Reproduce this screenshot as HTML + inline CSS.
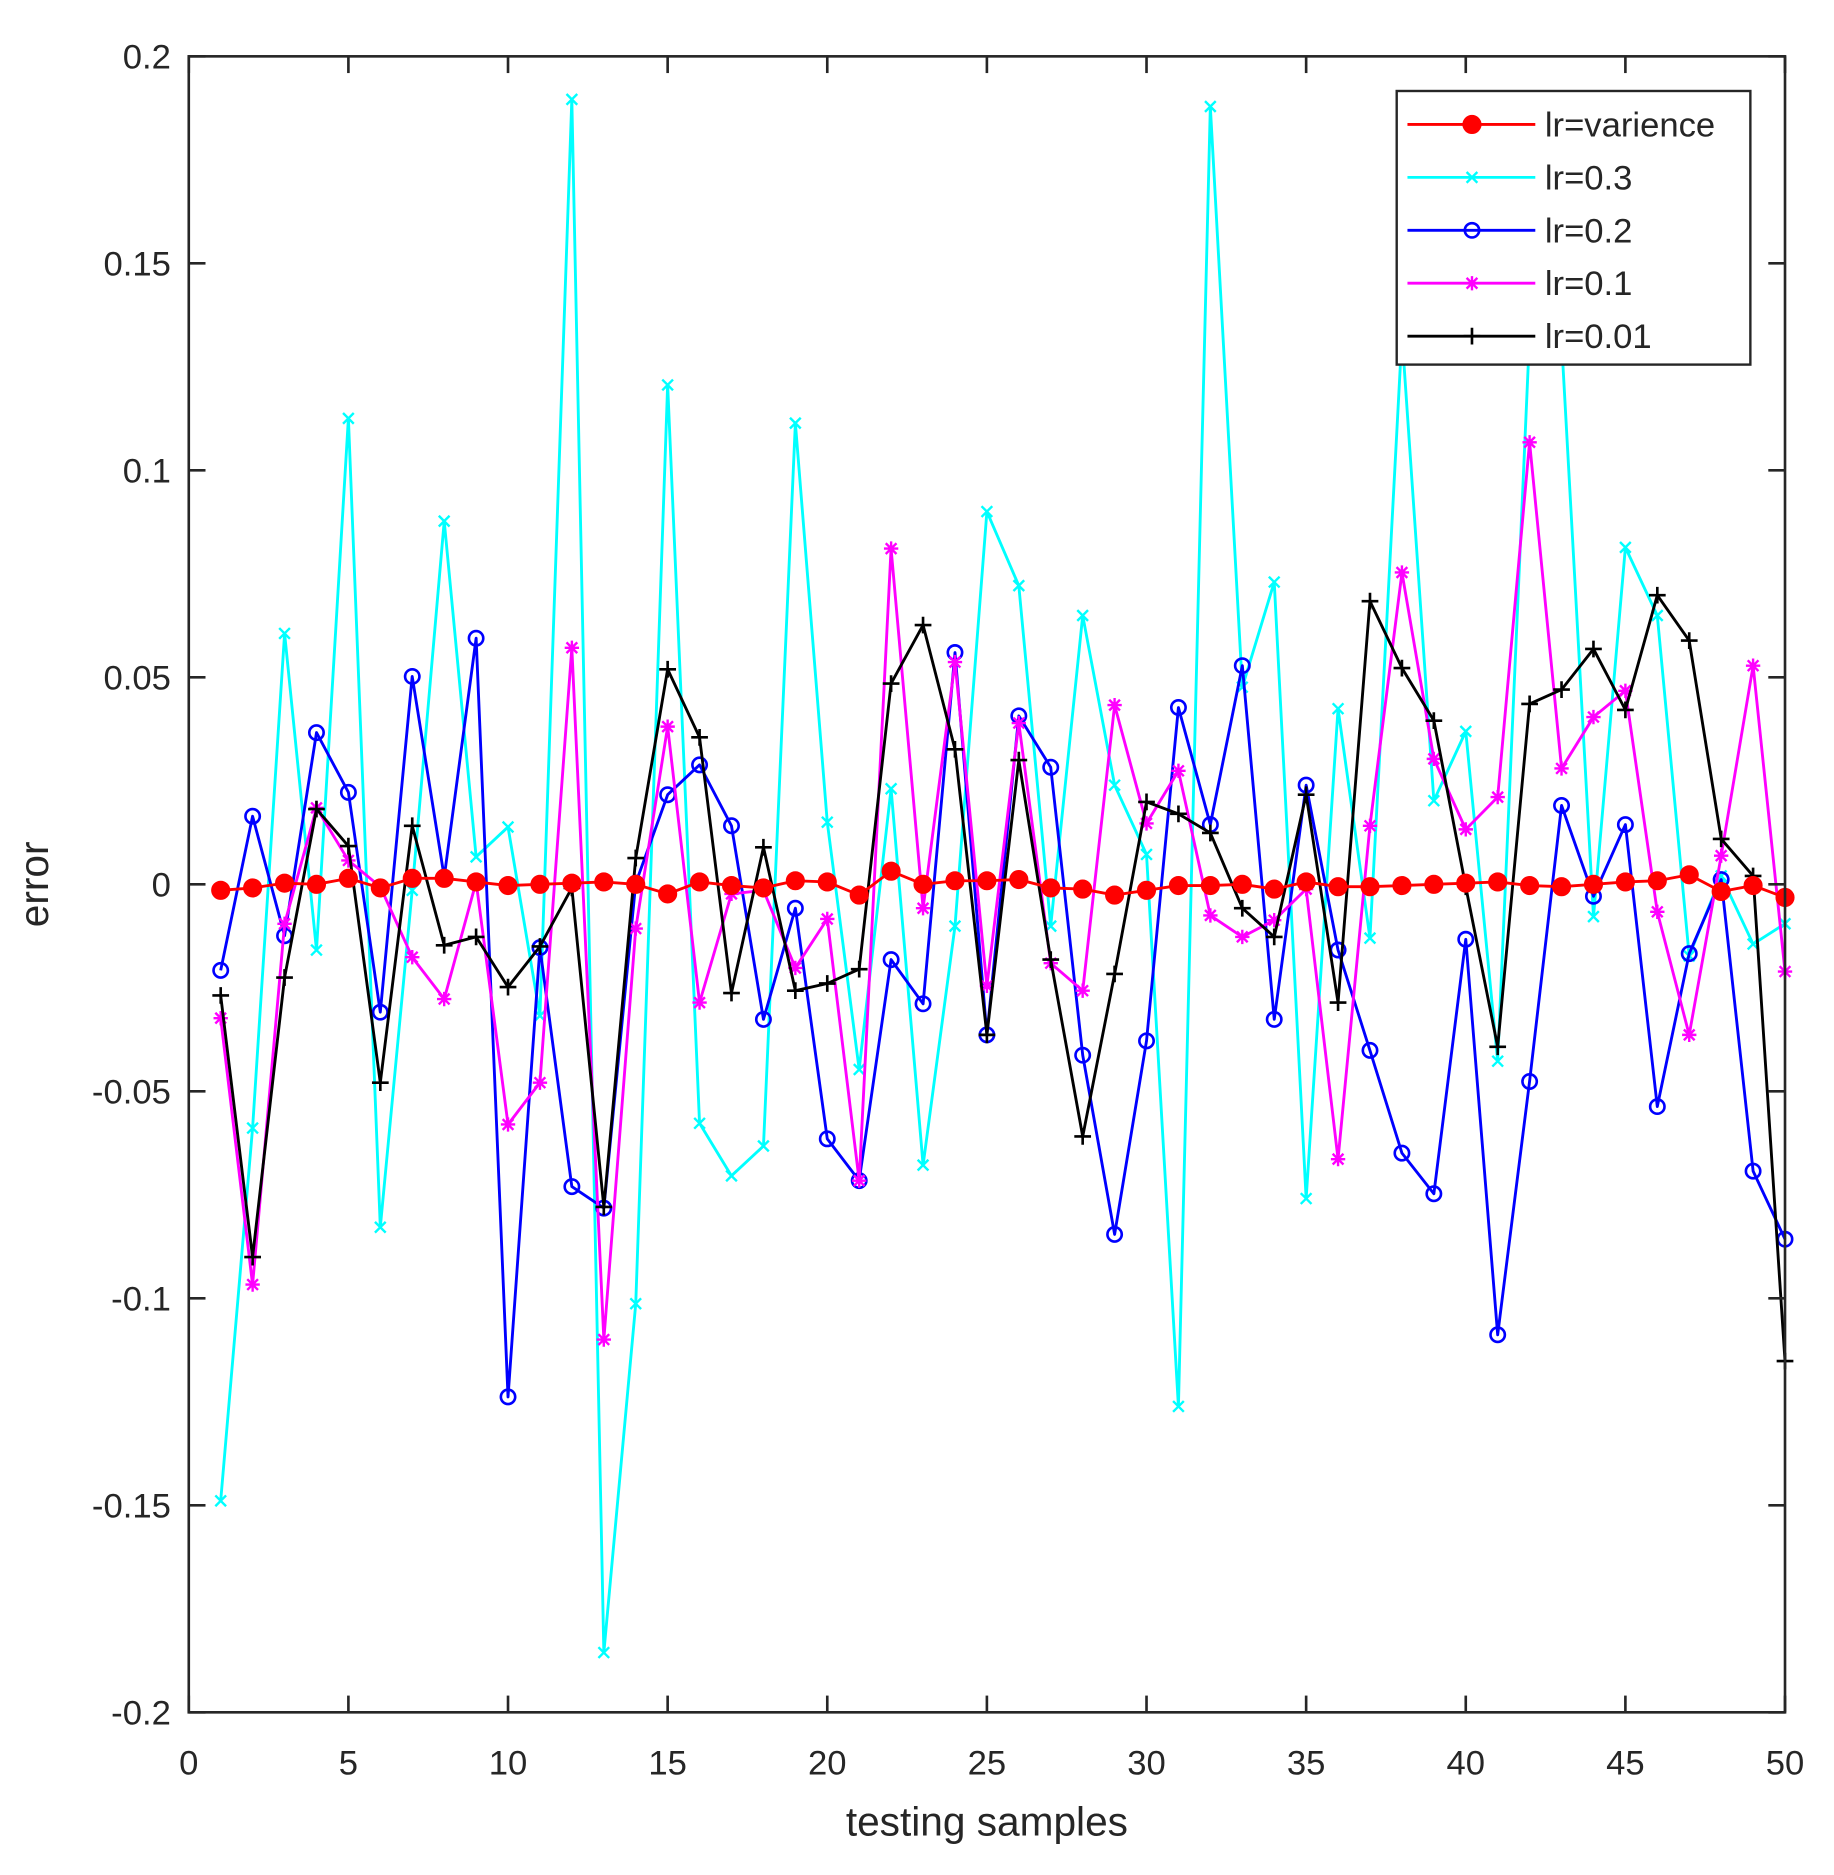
<!DOCTYPE html>
<html><head><meta charset="utf-8"><style>
html,body{margin:0;padding:0;background:#fff;}
svg{display:block;}
text{font-family:"Liberation Sans",Arial,sans-serif;fill:#262626;}
</style></head><body>
<svg id="s" width="1834" height="1875" viewBox="0 0 1535 1569" xmlns="http://www.w3.org/2000/svg">
<rect x="0" y="0" width="1535" height="1569" fill="#fff"/>
<g id="data"></g>
<g id="axes" stroke="#262626" stroke-width="2.2" fill="none">
<rect x="158" y="47" width="1336" height="1386"/>
</g>
<g id="labels"></g>
<text x="826" y="1536" font-size="34" text-anchor="middle">testing samples</text>
<text transform="translate(40,740) rotate(-90)" font-size="34" text-anchor="middle">error</text>
<g id="legend"></g>
</svg>
<script>
var NS="http://www.w3.org/2000/svg";
function el(p,t,a,txt){var e=document.createElementNS(NS,t);for(var k in a)e.setAttribute(k,a[k]);if(txt!=null)e.textContent=txt;p.appendChild(e);return e;}
var X=function(i){return 158+26.72*i;};
var axes=document.getElementById('axes'),labels=document.getElementById('labels');
for(var i=0;i<=10;i++){var x=158+133.6*i;
 el(axes,'line',{x1:x,y1:1433,x2:x,y2:1419});el(axes,'line',{x1:x,y1:47,x2:x,y2:61});
 el(labels,'text',{x:x,y:1485,'font-size':29,'text-anchor':'middle'},String(i*5));}
var yl=['0.2','0.15','0.1','0.05','0','-0.05','-0.1','-0.15','-0.2'];
for(var j=0;j<9;j++){var y=47+173.25*j;
 el(axes,'line',{x1:158,y1:y,x2:172,y2:y});el(axes,'line',{x1:1494,y1:y,x2:1480,y2:y});
 el(labels,'text',{x:143,y:y+10,'font-size':29,'text-anchor':'end'},yl[j]);}
var S={
red:[745,743,739,740,735,743,735,735,738,741,740,739,738,740,748,738,741,743,737,738,749,729,740,737,737,736,743,744,749,745,741,741,740,744,738,742,742,741,740,739,738,741,742,740,738,737,732,746,741,751],
cyan:[1256,944,530,795,350,1027,745,436,717,692,850,83,1383,1091,322,940,984,959,354,688,895,660,975,775,428,490,775,515,657,715,1177,89,575,487,1003,593,785,280,670,612,888,280,285,767,458,515,800,733,790,773],
blue:[812,683,783,613,663,847,566,734,534,1169,793,993,1011,739,665,640,691,853,760,953,988,803,840,546,866,599,642,883,1033,871,592,690,557,853,657,795,879,965,999,786,1117,905,674,750,690,926,798,736,980,1037],
mag:[852,1075,773,676,720,742,801,836,738,941,906,542,1121,777,608,839,748,745,810,769,988,459,760,554,825,605,806,829,590,689,645,766,784,770,744,970,691,479,635,694,667,370,643,600,578,763,866,716,557,813],
blk:[833,1052,818,677,708,906,691,791,784,826,792,743,1010,718,560,617,831,709,829,823,811,572,523,627,866,636,803,951,815,671,681,697,760,784,665,839,503,559,603,742,876,589,577,543,594,498,536,702,733,1139]};
var cfg=[['cyan','#00ffff','x'],['blue','#0000ff','o'],['mag','#ff00ff','*'],['blk','#000000','+'],['red','#ff0000','dot']];
var g=document.getElementById('data');
function marker(p,x,y,c,m){
 if(m=='dot')el(p,'circle',{cx:x,cy:y,r:7.5,fill:c,stroke:c,'stroke-width':1});
 else if(m=='o')el(p,'circle',{cx:x,cy:y,r:6,fill:'none',stroke:c,'stroke-width':2.2});
 else if(m=='x'){var d=4.5;el(p,'path',{d:'M'+(x-d)+' '+(y-d)+'L'+(x+d)+' '+(y+d)+'M'+(x-d)+' '+(y+d)+'L'+(x+d)+' '+(y-d),stroke:c,'stroke-width':2});}
 else if(m=='+'){var d=7;el(p,'path',{d:'M'+(x-d)+' '+y+'L'+(x+d)+' '+y+'M'+x+' '+(y-d)+'L'+x+' '+(y+d),stroke:c,'stroke-width':2.2});}
 else if(m=='*'){var d=6,e=4.5;el(p,'path',{d:'M'+(x-d)+' '+y+'L'+(x+d)+' '+y+'M'+x+' '+(y-d)+'L'+x+' '+(y+d)+'M'+(x-e)+' '+(y-e)+'L'+(x+e)+' '+(y+e)+'M'+(x-e)+' '+(y+e)+'L'+(x+e)+' '+(y-e),stroke:c,'stroke-width':2});}
}
cfg.forEach(function(c){var d=S[c[0]],pts=d.map(function(v,i){return X(i+1).toFixed(1)+','+v;}).join(' ');
 el(g,'polyline',{points:pts,fill:'none',stroke:c[1],'stroke-width':2.4,'stroke-linejoin':'round'});
 d.forEach(function(v,i){marker(g,X(i+1),v,c[1],c[2]);});});
var L=document.getElementById('legend');
el(L,'rect',{x:1169,y:76,width:296,height:229,fill:'#fff',stroke:'#262626','stroke-width':2});
var le=[['lr=varience','#ff0000','dot'],['lr=0.3','#00ffff','x'],['lr=0.2','#0000ff','o'],['lr=0.1','#ff00ff','*'],['lr=0.01','#000000','+']];
le.forEach(function(e,k){var y=104+44.3*k;
 el(L,'line',{x1:1178,y1:y,x2:1285,y2:y,stroke:e[1],'stroke-width':2.4});
 marker(L,1232,y,e[1],e[2]);
 el(L,'text',{x:1293,y:y+10,'font-size':29},e[0]);});
</script>
</body></html>
